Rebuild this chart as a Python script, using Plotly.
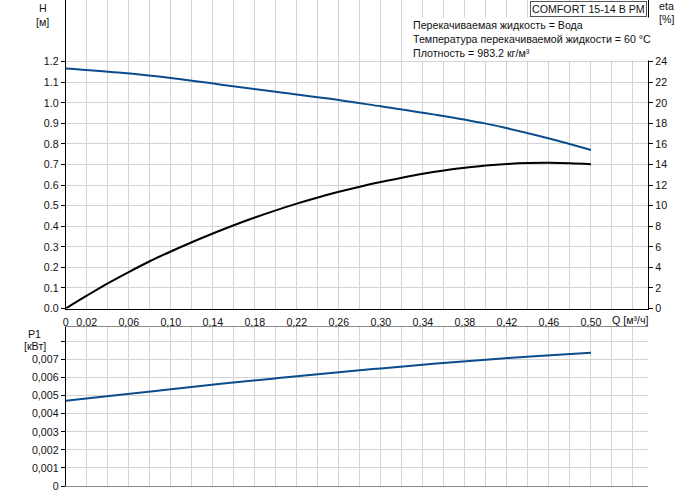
import plotly.graph_objects as go

# ---------------- data ----------------
q_h = [0.00, 0.05, 0.10, 0.15, 0.20, 0.25, 0.30, 0.35, 0.40, 0.45, 0.50]
h_m = [1.167, 1.147, 1.121, 1.087, 1.054, 1.021, 0.983, 0.944, 0.899, 0.840, 0.771]

q_eta = [0.00, 0.02, 0.04, 0.06, 0.08, 0.10, 0.12, 0.14, 0.16, 0.18, 0.20, 0.22, 0.24,
         0.26, 0.28, 0.30, 0.32, 0.34, 0.36, 0.38, 0.40, 0.42, 0.44, 0.46, 0.48, 0.50]
eta_pct = [0.0, 1.25, 2.45, 3.55, 4.6, 5.55, 6.45, 7.3, 8.1, 8.85, 9.55, 10.2, 10.8,
           11.35, 11.85, 12.3, 12.72, 13.1, 13.42, 13.68, 13.9, 14.05, 14.14, 14.17, 14.13, 14.04]

q_p = [0.00, 0.05, 0.10, 0.15, 0.20, 0.25, 0.30, 0.35, 0.40, 0.45, 0.50]
p1_kw = [0.00471, 0.00503, 0.00535, 0.00566, 0.00595, 0.00623, 0.00650, 0.00675, 0.00698, 0.00718, 0.00736]

q_grid = [round(0.02 * i, 2) for i in range(28)]
q_labels = ["0", "0,02", "", "0,06", "", "0,10", "", "0,14", "", "0,18", "", "0,22", "", "0,26",
            "", "0,30", "", "0,34", "", "0,38", "", "0,42", "", "0,46", "", "0,50", "", ""]
q_major_ticks = [0.08, 0.22, 0.36, 0.50]
q_unit = "Q [м³/ч]"

h_ticks = [round(0.1 * i, 1) for i in range(13)]
h_labels = ["%.1f" % v for v in h_ticks]
h_extra_grid = [1.3, 1.4, 1.5]

eta_ticks = list(range(0, 25, 2))
eta_labels = [str(v) for v in eta_ticks]

p_ticks = [round(0.001 * i, 3) for i in range(9)]
p_labels = ["0", "0,001", "0,002", "0,003", "0,004", "0,005", "0,006", "0,007", ""]

title_box = "COMFORT 15-14 B PM"
info_lines = ["Перекачиваемая жидкость = Вода",
              "Температура перекачиваемой жидкости = 60 °C",
              "Плотность = 983.2 кг/м³"]

# ---------------- layout helpers ----------------
W, H = 691, 500
def px(x):
    return x / W
def py(y):
    return 1 - y / H

FONT = "Liberation Sans, Arial, sans-serif"
FS = 10.67
GRID = "#d4d4d4"
BLUE = "#0b4d8c"
XR = [0, 0.5545]
xdom = [px(63), px(648)]

fig = go.Figure()
fig.add_trace(go.Scatter(x=q_h, y=h_m, mode="lines", line=dict(color=BLUE, width=2, shape="spline"),
                         xaxis="x", yaxis="y", showlegend=False, hoverinfo="skip"))
fig.add_trace(go.Scatter(x=q_eta, y=eta_pct, mode="lines", line=dict(color="#000000", width=2, shape="spline"),
                         xaxis="x", yaxis="y2", showlegend=False, hoverinfo="skip"))
fig.add_trace(go.Scatter(x=q_p, y=p1_kw, mode="lines", line=dict(color=BLUE, width=2, shape="spline"),
                         xaxis="x4", yaxis="y4", showlegend=False, hoverinfo="skip"))

tickfont = dict(family=FONT, size=FS, color="#111111")

fig.update_layout(
    width=W, height=H, margin=dict(l=0, r=0, t=0, b=0, pad=0),
    paper_bgcolor="white", plot_bgcolor="white",
    font=dict(family=FONT, size=FS, color="#111111"),
    xaxis=dict(domain=xdom, range=XR, anchor="y", tickmode="array", tickvals=q_grid, ticktext=q_labels,
               showgrid=True, gridcolor=GRID, gridwidth=1, ticks="", showline=True, linecolor="#000",
               linewidth=1, zeroline=False, tickfont=tickfont, ticklabelstandoff=4),
    xaxis3=dict(overlaying="x", range=XR, anchor="y", side="bottom", tickmode="array",
                tickvals=q_major_ticks, ticks="outside", ticklen=4, tickcolor="#000",
                showticklabels=False, showgrid=False, zeroline=False, showline=False),
    yaxis=dict(domain=[py(312.3), 1], range=[0, 1.5], anchor="x", tickmode="array", tickvals=h_ticks,
               ticktext=h_labels, showgrid=True, gridcolor=GRID, ticks="outside", ticklen=4,
               tickcolor="#000", showline=True, linecolor="#000", zeroline=False, tickfont=tickfont),
    yaxis3=dict(overlaying="y", range=[0, 1.5], anchor="x", tickmode="array", tickvals=h_extra_grid,
                showgrid=True, gridcolor=GRID, showticklabels=False, ticks="", zeroline=False,
                showline=False),
    yaxis2=dict(overlaying="y", side="right", range=[0, 30], anchor="x", tickmode="array",
                tickvals=eta_ticks, ticktext=eta_labels, showgrid=False, ticks="outside", ticklen=4,
                tickcolor="#000", showline=True, linecolor="#000", zeroline=False, tickfont=tickfont),
    xaxis4=dict(domain=xdom, range=XR, anchor="y4", tickmode="array", tickvals=q_grid,
                showticklabels=False, showgrid=True, gridcolor=GRID, ticks="", showline=True,
                linecolor="#8a8a8a", mirror=True, zeroline=False),
    yaxis4=dict(domain=[py(492), py(330.7)], range=[0, 0.0088], anchor="x4", tickmode="array",
                tickvals=p_ticks, ticktext=p_labels, showgrid=True, gridcolor=GRID, ticks="outside",
                ticklen=4, tickcolor="#000", showline=True, linecolor="#000", zeroline=False,
                tickfont=tickfont),
)

ann = []
def label(text, x, y, xanchor="center"):
    ann.append(dict(text=text, x=px(x), y=py(y), xref="paper", yref="paper", showarrow=False,
                    xanchor=xanchor, yanchor="middle", font=dict(family=FONT, size=FS, color="#111")))

label("H", 40, 8)
label("[м]", 40, 22)
label("eta", 666, 6)
label("[%]", 666, 19)
label("P1", 32, 338)
label("[кВт]", 32, 350)
label(q_unit, 610, 324, xanchor="left")

ann.append(dict(text=title_box, x=px(647), y=py(1), xref="paper", yref="paper", showarrow=False,
                xanchor="right", yanchor="top", bgcolor="white", bordercolor="#555", borderwidth=1,
                borderpad=1, font=dict(family=FONT, size=FS, color="#111")))
ann.append(dict(text="<br>".join(info_lines), x=px(410), y=py(17), xref="paper", yref="paper",
                showarrow=False, xanchor="left", yanchor="top", align="left", bgcolor="white",
                borderpad=1, font=dict(family=FONT, size=FS, color="#111")))
fig.update_layout(annotations=ann)

fig.write_html("out.html", config={"displayModeBar": False},
               post_script="document.body.style.margin='0';document.body.style.overflow='hidden';")
